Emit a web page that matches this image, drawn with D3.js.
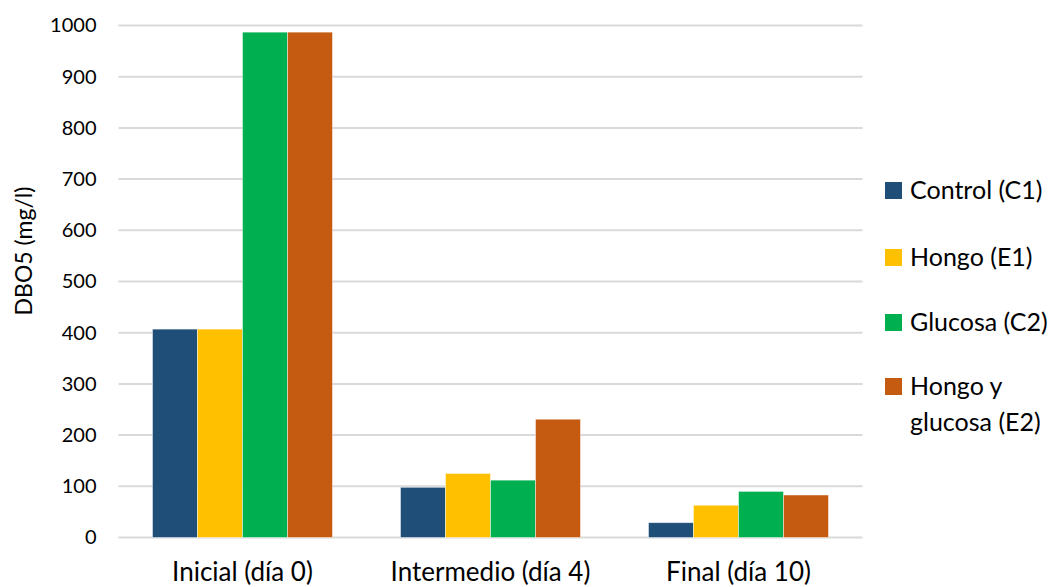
<!DOCTYPE html>
<html>
<head>
<meta charset="utf-8">
<script src="https://cdn.jsdelivr.net/npm/d3@7"></script>
<style>
  body { margin: 0; background: #fff; }
  svg text { font-family: Lato, "Open Sans", sans-serif; fill: #000; }
</style>
</head>
<body>
<svg id="chart" width="1059" height="587"></svg>
<script>
const categories = ["Inicial (día 0)", "Intermedio (día 4)", "Final (día 10)"];
const seriesNames = ["Control (C1)", "Hongo (E1)", "Glucosa (C2)", "Hongo y glucosa (E2)"];
const seriesColors = ["#1f4e79", "#ffc000", "#00b050", "#c55a11"];
const control = [407, 98, 29];
const hongo = [407, 125, 63];
const glucosa = [987, 112, 90];
const hongoGlucosa = [987, 231, 83];
const yTicks = [0, 100, 200, 300, 400, 500, 600, 700, 800, 900, 1000];

const seriesValues = [control, hongo, glucosa, hongoGlucosa];

const svg = d3.select("#chart");
const plot = { left: 118.5, right: 862.5, top: 25.5, bottom: 537.5 };

const x = d3.scaleBand().domain(categories).range([plot.left, plot.right]).paddingInner(0).paddingOuter(0);
const x1 = d3.scaleBand().domain(seriesNames).range([0, 180]);
const y = d3.scaleLinear().domain([0, 1000]).range([plot.bottom, plot.top]);

// horizontal gridlines
svg.append("g").selectAll("line").data(yTicks).join("line")
  .attr("x1", plot.left).attr("x2", plot.right)
  .attr("y1", d => y(d)).attr("y2", d => y(d))
  .attr("stroke", "#d9d9d9").attr("stroke-width", 2);

// y axis labels
const yAxis = d3.axisLeft(y).tickValues(yTicks).tickFormat(d3.format("d")).tickSize(0).tickPadding(0);
const gy = svg.append("g").attr("transform", `translate(${plot.left - 22},0)`).call(yAxis);
gy.select(".domain").remove();
gy.selectAll("text").style("font-size", "20px").style("font-family", "Lato, 'Open Sans', sans-serif").attr("fill", "#000");

// y axis title
svg.append("text")
  .attr("transform", `translate(32,251) rotate(-90)`)
  .attr("text-anchor", "middle")
  .style("font-size", "23px")
  .text("DBO5 (mg/l)");

// bars
const groups = svg.append("g").selectAll("g").data(categories).join("g")
  .attr("transform", d => `translate(${x(d) + (x.bandwidth() - 180) / 2},0)`);

groups.selectAll("rect")
  .data((c, i) => seriesNames.map((s, j) => ({ s, j, v: seriesValues[j][i] })))
  .join("rect")
  .attr("x", d => x1(d.s))
  .attr("width", x1.bandwidth())
  .attr("y", d => y(d.v))
  .attr("height", d => y(0) - y(d.v))
  .attr("fill", d => seriesColors[d.j])
  .attr("stroke", "rgba(255,255,255,0.45)")
  .attr("stroke-width", 1);

// x axis labels
const xAxis = d3.axisBottom(x).tickSize(0).tickPadding(0);
const gx = svg.append("g").attr("transform", `translate(0,${plot.bottom + 25})`).call(xAxis);
gx.select(".domain").remove();
gx.selectAll("text").style("font-size", "26px").style("font-family", "Lato, 'Open Sans', sans-serif").attr("fill", "#000");

// legend
const legendRows = [
  { lines: ["Control (C1)"], y: 190 },
  { lines: ["Hongo (E1)"], y: 257 },
  { lines: ["Glucosa (C2)"], y: 322 },
  { lines: ["Hongo y", "glucosa (E2)"], y: 386 }
];
const lg = svg.append("g");
legendRows.forEach((r, i) => {
  lg.append("rect").attr("x", 885).attr("y", r.y - 8).attr("width", 17).attr("height", 17)
    .attr("fill", seriesColors[i]);
  r.lines.forEach((t, k) => {
    lg.append("text").attr("x", 910).attr("y", r.y + 9 + k * 36)
      .style("font-size", "25px").text(t);
  });
});
</script>
</body>
</html>
